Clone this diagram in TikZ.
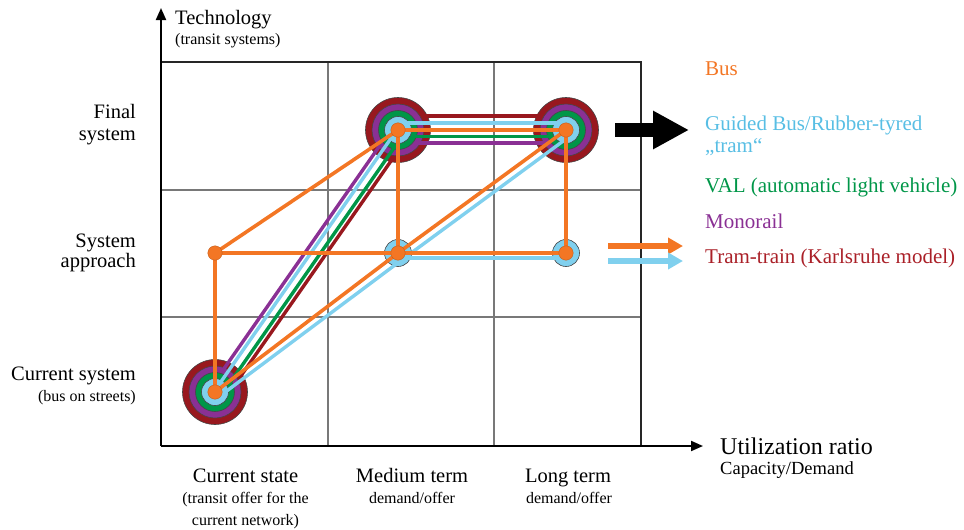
\documentclass[tikz,border=0pt]{standalone}
\usepackage{fontspec}
\setmainfont{Liberation Serif}
\usetikzlibrary{calc,arrows.meta}

\definecolor{cbus}{RGB}{243,118,36}
\definecolor{cguided}{RGB}{128,208,238}
\definecolor{cval}{RGB}{0,150,72}
\definecolor{cmono}{RGB}{138,48,148}
\definecolor{ctram}{RGB}{152,24,30}
\definecolor{tguided}{RGB}{88,190,228}
\definecolor{tram}{RGB}{170,32,40}
\definecolor{ringedge}{RGB}{70,70,70}
\definecolor{gridgray}{RGB}{120,120,120}

\tikzset{
  gridline/.style={draw=gridgray, line width=1.3pt},
  frameline/.style={draw=black!85, line width=2pt},
  axisline/.style={draw=black, line width=2pt, -{Triangle[length=12pt,width=10pt]}},
  route/.style={line width=3.4pt},
  ring/.style={draw=ringedge, line width=0.6pt},
  hub/.style={fill=cbus, draw=cbus!80!black, line width=0.4pt},
  big/.style={font=\fontsize{20.5}{24}\selectfont, inner sep=0pt},
  small/.style={font=\fontsize{16}{19}\selectfont, inner sep=0pt},
  legend/.style={font=\fontsize{21}{25}\selectfont, inner sep=0pt, anchor=base west},
}

\begin{document}
\begin{tikzpicture}[x=1pt,y=-1pt]
\useasboundingbox (0,0) rectangle (964,530);

% grid of the chart
\draw[gridline] (328,62) -- (328,446) (494,62) -- (494,446)
                (161,190) -- (641,190) (161,317) -- (641,317);
\draw[frameline] (161,62) -- (641,62) -- (641,446);
\coordinate (origin) at (161,446);
\coordinate (ytip) at (161,8);
\coordinate (xtip) at (703,446);
\draw[axisline] (origin) -- (ytip);
\draw[axisline] (origin) -- (xtip);

% hubs of the routes
\coordinate (bl) at (215,392);
\coordinate (ml) at (215,253);
\coordinate (mm) at (398,253);
\coordinate (mr) at (566,253);
\coordinate (tl) at (398,130);
\coordinate (tr) at (566,130);

% tram-train: outer ring and lines
\foreach \h in {bl,tl,tr} \filldraw[ring, fill=ctram] (\h) circle (32.5pt);
\draw[route, ctram] ($(bl)!12pt!-90:(tl)$) -- ($(tl)!12pt!90:(bl)$);
\draw[route, ctram] ($(tl)+(0,-14)$) -- ($(tr)+(0,-14)$);

% monorail
\foreach \h in {bl,tl,tr} \filldraw[ring, fill=cmono] (\h) circle (26pt);
\draw[route, cmono] ($(bl)!-6pt!-90:(tl)$) -- ($(tl)!-6pt!90:(bl)$);
\draw[route, cmono] ($(tl)+(0,13)$) -- ($(tr)+(0,13)$);

% VAL
\foreach \h in {bl,tl,tr} \filldraw[ring, fill=cval] (\h) circle (19.5pt);
\draw[route, cval] ($(bl)!7pt!-90:(tl)$) -- ($(tl)!7pt!90:(bl)$);
\draw[route, cval] ($(tl)+(0,6.5)$) -- ($(tr)+(0,6.5)$);

% guided bus
\foreach \h in {bl,tl,tr,mm,mr} \filldraw[ring, fill=cguided] (\h) circle (13.5pt);
\draw[route, cguided] ($(bl)!-1pt!-90:(tl)$) -- ($(tl)!-1pt!90:(bl)$);
\draw[route, cguided] ($(tl)+(0,-7)$) -- ($(tr)+(0,-7)$);
\draw[route, cguided] ($(bl)+(5,4)$) -- ($(mm)+(5,6)$) -- ($(tr)+(4,6)$);
\draw[route, cguided] ($(mm)+(0,5)$) -- ($(mr)+(0,5)$);

% bus
\draw[route, cbus, line width=3.6pt] (bl) -- (ml) -- (tl) -- (tr) -- (mr) -- (ml);
\draw[route, cbus, line width=3.6pt] (bl) -- (mm) -- (tr);
\draw[route, cbus, line width=3.6pt] (mm) -- (tl);
\foreach \h in {bl,ml,mm,mr,tl,tr} \filldraw[hub] (\h) circle (7.2pt);

% arrows towards the legend
\coordinate (fa) at (615,130); \coordinate (fb) at (689,130);
\draw[line width=14pt, -{Triangle[length=36pt,width=36pt]}] (fa) -- (fb);
\coordinate (oa) at (608,246); \coordinate (ob) at (683,246);
\draw[cbus, line width=6pt, -{Triangle[length=15pt,width=16pt]}] (oa) -- (ob);
\coordinate (ga) at (608,261); \coordinate (gb) at (683,261);
\draw[cguided, line width=6pt, -{Triangle[length=15pt,width=16pt]}] (ga) -- (gb);

% axis titles
\node[big, anchor=base west] (ytitle) at (175,24) {Technology};
\node[small, anchor=base west] (ysub) at (175,44) {(transit systems)};
\node[font=\fontsize{24}{28}\selectfont, inner sep=0pt, anchor=base west] (xtitle) at (720,454) {Utilization ratio};
\node[font=\fontsize{18.5}{22}\selectfont, inner sep=0pt, anchor=base west] (xsub) at (720,474) {Capacity/Demand};

% row labels
\node[big, anchor=base east] (r3a) at (136,118) {Final};
\node[big, anchor=base east] (r3b) at (136,140) {system};
\node[big, anchor=base east] (r2a) at (136,247) {System};
\node[big, anchor=base east] (r2b) at (136,267) {approach};
\node[big, anchor=base east] (r1a) at (136,380) {Current system};
\node[small, anchor=base east] (r1b) at (136,401) {(bus on streets)};

% column labels
\node[big, anchor=base] (c1a) at (245.5,482) {Current state};
\node[small, anchor=base] (c1b) at (245.5,503) {(transit offer for the};
\node[small, anchor=base] (c1c) at (245.5,525) {current network)};
\node[big, anchor=base] (c2a) at (412,482) {Medium term};
\node[small, anchor=base] (c2b) at (412,503) {demand/offer};
\node[big, anchor=base] (c3a) at (568,482) {Long term};
\node[small, anchor=base] (c3b) at (569,503) {demand/offer};

% legend
\node[legend, text=cbus] (lbus) at (705,75) {Bus};
\node[legend, text=tguided] (lguided) at (705,130) {Guided Bus/Rubber-tyred};
\node[legend, text=tguided] (lguided2) at (705,152) {„tram“};
\node[legend, text=cval] (lval) at (705,192) {VAL (automatic light vehicle)};
\node[legend, text=cmono] (lmono) at (705,228) {Monorail};
\node[legend, text=tram] (ltram) at (705,263) {Tram-train (Karlsruhe model)};
\end{tikzpicture}
\end{document}
